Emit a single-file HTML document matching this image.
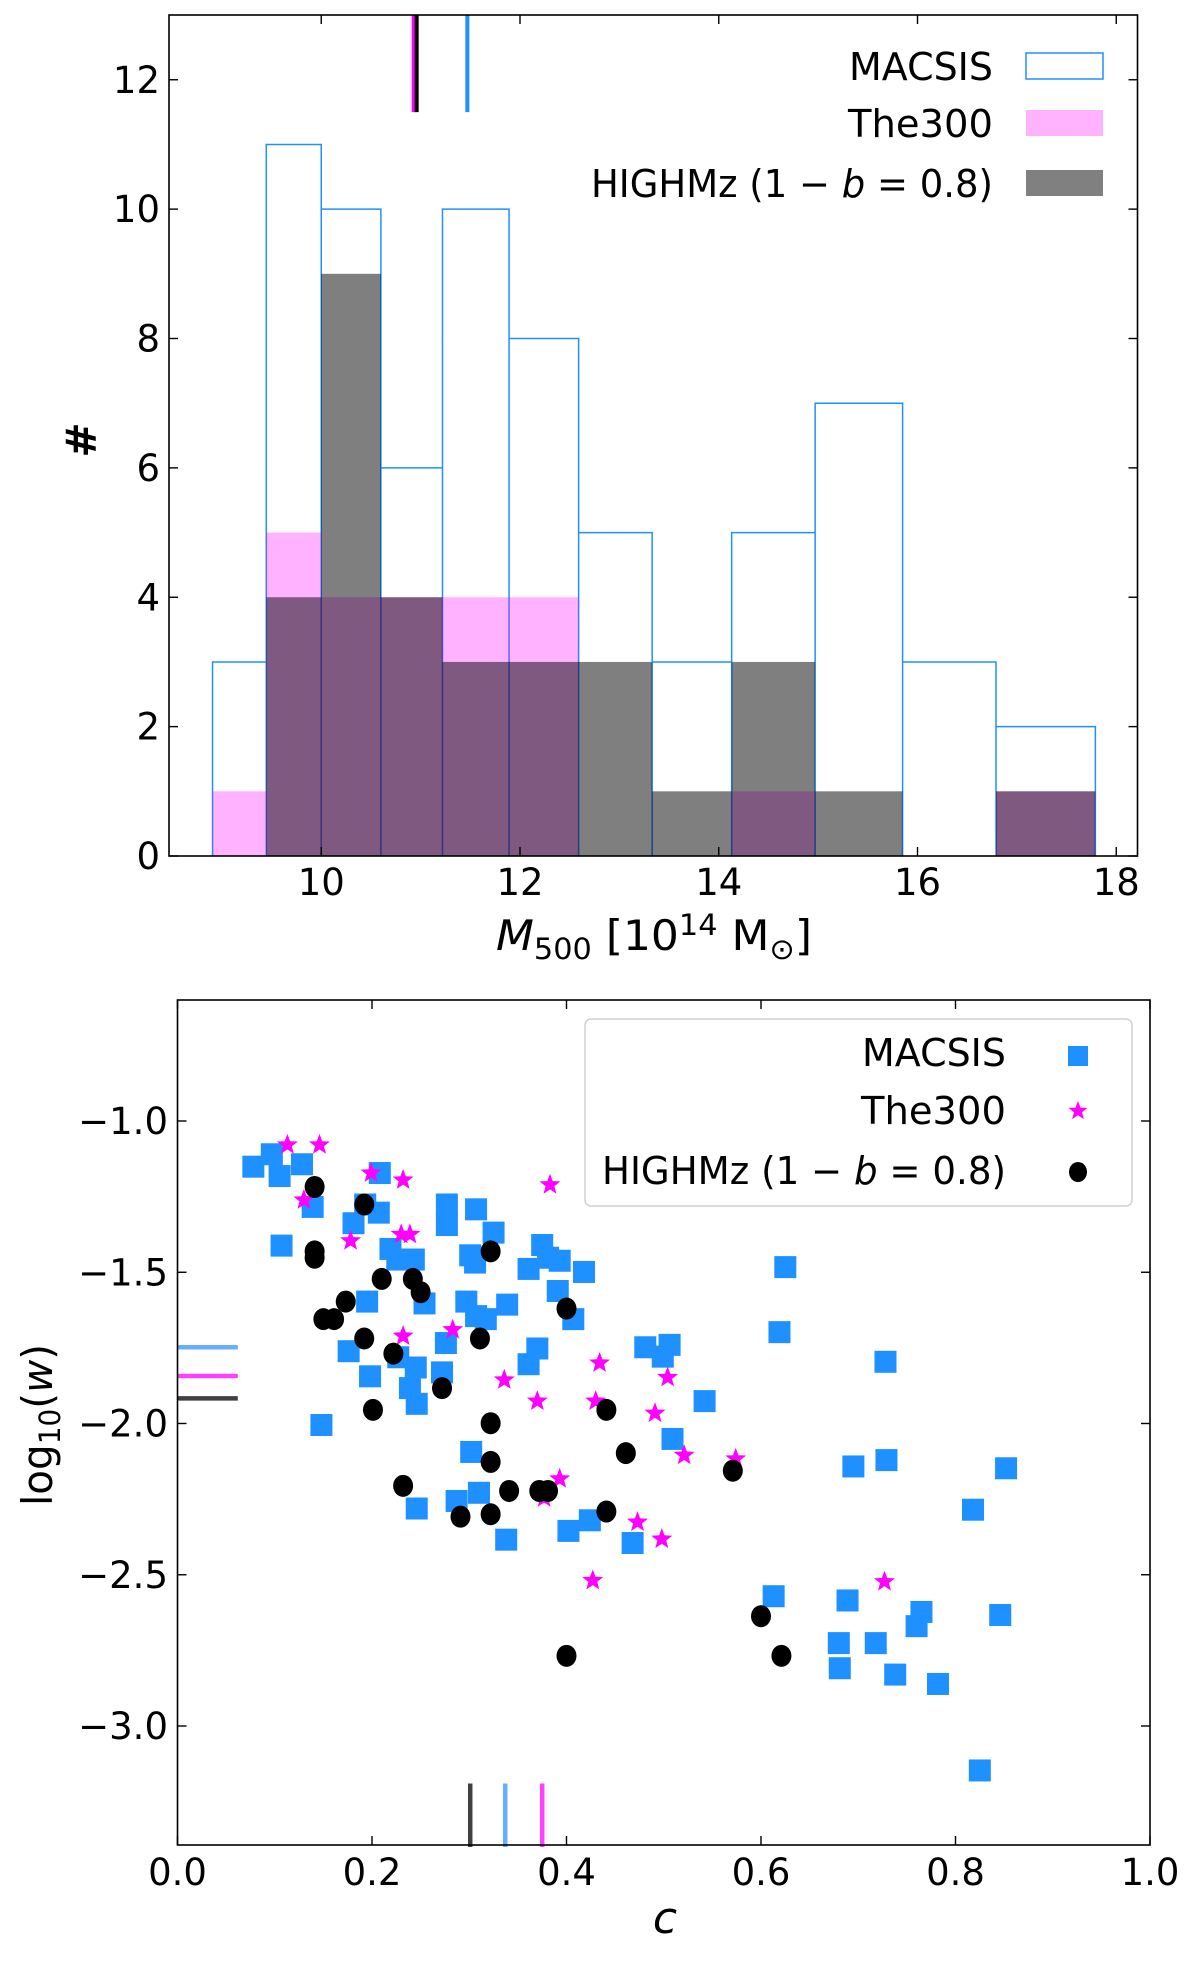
<!DOCTYPE html>
<html><head><meta charset="utf-8"><style>
html,body{margin:0;padding:0;background:#fff;}
svg{display:block;font-family:"DejaVu Sans","Liberation Sans",sans-serif;}
</style></head>
<body>
<svg id="fig" width="1200" height="1963" viewBox="0 0 1200 1963" xmlns="http://www.w3.org/2000/svg">
<g id="topPanel"></g>
<g id="botPanel"></g>
</svg>
<script>
// ---- Histogram data ----
const binEdges = [8.906, 9.447, 10.0, 10.60, 11.22, 11.89, 12.59, 13.33, 14.13, 14.97, 15.85, 16.79, 17.79];
const macsisCounts = [3, 11, 10, 6, 10, 8, 5, 3, 5, 7, 3, 2];
const the300Counts = [1, 5, 4, 4, 4, 4, 0, 0, 1, 0, 0, 1];
const highmzCounts = [0, 4, 9, 4, 3, 3, 3, 1, 3, 1, 0, 1];
const histXTicks = [10, 12, 14, 16, 18];
const histYTicks = [0, 2, 4, 6, 8, 10, 12];
const massMedians = [10.93, 10.96, 11.47]; // the300, highmz, macsis

// ---- Scatter data ----
const macsisC = [.078,.097,.105,.128,.139,.107,.148,.181,.193,.208,.207,.219,.226,.243,.195,.254,.176,.198,.227,.245,.239,.246,.246,.277,.277,.276,.272,.307,.301,.306,.325,.297,.307,.317,.339,.302,.287,.310,.338,.361,.375,.381,.393,.391,.407,.418,.370,.361,.402,.424,.468,.481,.499,.506,.542,.509,.625,.619,.613,.689,.680,.681,.695,.718,.728,.729,.738,.760,.765,.782,.818,.825,.846,.852];
const macsisW = [-1.151,-1.110,-1.182,-1.143,-1.284,-1.412,-2.005,-1.338,-1.276,-1.172,-1.303,-1.423,-1.458,-1.458,-1.597,-1.603,-1.761,-1.844,-1.781,-1.815,-1.883,-1.935,-2.281,-1.276,-1.344,-1.734,-1.831,-1.292,-1.444,-1.468,-1.369,-1.597,-1.645,-1.655,-1.607,-2.094,-2.256,-2.229,-2.384,-1.489,-1.410,-1.452,-1.462,-1.562,-1.655,-1.499,-1.752,-1.804,-2.355,-2.320,-2.395,-1.748,-1.779,-1.740,-1.926,-2.051,-1.483,-1.698,-2.571,-2.585,-2.726,-2.809,-2.142,-2.726,-1.796,-2.121,-2.830,-2.670,-2.623,-2.861,-2.285,-3.147,-2.633,-2.148];
const the300C = [.113,.146,.130,.199,.232,.178,.230,.239,.232,.283,.383,.336,.370,.434,.430,.504,.491,.521,.574,.393,.377,.473,.498,.427,.727];
const the300W = [-1.079,-1.079,-1.261,-1.172,-1.195,-1.396,-1.375,-1.375,-1.711,-1.690,-1.211,-1.856,-1.926,-1.800,-1.926,-1.848,-1.966,-2.105,-2.117,-2.183,-2.246,-2.326,-2.382,-2.519,-2.523];
const highmzC = [.141,.141,.141,.192,.210,.242,.250,.322,.173,.150,.161,.192,.222,.311,.400,.272,.201,.322,.441,.461,.322,.232,.291,.322,.341,.372,.381,.441,.571,.400,.600,.621];
const highmzW = [-1.218,-1.431,-1.452,-1.276,-1.522,-1.522,-1.566,-1.431,-1.597,-1.655,-1.655,-1.719,-1.769,-1.719,-1.620,-1.883,-1.955,-1.999,-1.955,-2.098,-2.127,-2.206,-2.308,-2.300,-2.223,-2.223,-2.223,-2.291,-2.156,-2.768,-2.637,-2.768];
const medianW = [-1.748, -1.843, -1.917]; // macsis, the300, highmz
const medianC = [0.301, 0.337, 0.375]; // highmz, macsis, the300
const scatXTicks = [0.0, 0.2, 0.4, 0.6, 0.8, 1.0];
const scatYTicks = [-1.0, -1.5, -2.0, -2.5, -3.0];

const NS = "http://www.w3.org/2000/svg";
function mk(tag, attrs, parent) {
  const e = document.createElementNS(NS, tag);
  for (const k in attrs) e.setAttribute(k, attrs[k]);
  parent.appendChild(e);
  return e;
}

// ===== Top panel =====
const topG = document.getElementById('topPanel');
const TL = 169, TR = 1137.5, TT = 15, TB = 856;
const hx = v => 321.25 + (v - 10) * 99.375;
const hy = v => 856 - v * 64.6875;

let d = `M${hx(binEdges[0])},${hy(0)}`;
macsisCounts.forEach((c, i) => { d += ` L${hx(binEdges[i])},${hy(c)} L${hx(binEdges[i+1])},${hy(c)}`; });
d += ` L${hx(binEdges[binEdges.length-1])},${hy(0)}`;
for (let i = 1; i < binEdges.length - 1; i++) {
  d += ` M${hx(binEdges[i])},${hy(0)} L${hx(binEdges[i])},${hy(Math.max(macsisCounts[i-1], macsisCounts[i]))}`;
}
const mp = mk('path', {d: d, fill: 'none', stroke: '#1e90ff', 'stroke-width': 1.5}, topG);



the300Counts.forEach((c, i) => {
  if (!c) return;
  const r = mk('rect', {x: hx(binEdges[i]), y: hy(c), width: hx(binEdges[i+1]) - hx(binEdges[i]), height: hy(0) - hy(c), fill: '#ff00ff', 'fill-opacity': 0.3}, topG);
  
  
});
highmzCounts.forEach((c, i) => {
  if (!c) return;
  const r = mk('rect', {x: hx(binEdges[i]), y: hy(c), width: hx(binEdges[i+1]) - hx(binEdges[i]), height: hy(0) - hy(c), fill: '#000', 'fill-opacity': 0.5}, topG);
  
  
});
const medCols = ['#ff00ff', '#000000', '#1e90ff'];
massMedians.forEach((m, i) => {
  const l = mk('line', {x1: hx(m), x2: hx(m), y1: hy(13), y2: hy(11.5), stroke: medCols[i], 'stroke-width': 4}, topG);
  
  
});

const tf = mk('rect', {x: TL, y: TT, width: TR - TL, height: TB - TT, fill: 'none', stroke: '#000', 'stroke-width': 1.6}, topG);


histXTicks.forEach(v => {
  mk('line', {x1: hx(v), x2: hx(v), y1: TB, y2: TB - 9, stroke: '#000', 'stroke-width': 1.4}, topG);
  mk('line', {x1: hx(v), x2: hx(v), y1: TT, y2: TT + 9, stroke: '#000', 'stroke-width': 1.4}, topG);
  const t = mk('text', {x: hx(v), y: 895, 'font-size': 37, 'text-anchor': 'middle'}, topG);
  t.textContent = v;
  
  
});
histYTicks.forEach(v => {
  mk('line', {x1: TL, x2: TL + 9, y1: hy(v), y2: hy(v), stroke: '#000', 'stroke-width': 1.4}, topG);
  mk('line', {x1: TR, x2: TR - 9, y1: hy(v), y2: hy(v), stroke: '#000', 'stroke-width': 1.4}, topG);
  const t = mk('text', {x: 160, y: hy(v) + 13, 'font-size': 37, 'text-anchor': 'end'}, topG);
  t.textContent = v;
  
  
});
const xl = mk('text', {x: 496, y: 950, 'font-size': 42, textLength: 316, lengthAdjust: 'spacingAndGlyphs'}, topG);
xl.innerHTML = '<tspan font-style="italic">M</tspan><tspan font-size="29" dy="9">500</tspan><tspan dy="-9"> [10</tspan><tspan font-size="29" dy="-15">14</tspan><tspan dy="15"> M</tspan><tspan font-size="29" dy="9">⊙</tspan><tspan dy="-9">]</tspan>';


const yl = mk('text', {x: 0, y: 0, 'font-size': 42, 'font-weight': 'bold', 'text-anchor': 'middle', transform: 'translate(96,440) rotate(-90)'}, topG);
yl.textContent = '#';



const lg = mk('g', {}, topG);


[['MACSIS', 66, 144], ['The300', 123, 145], ['HIGHMz (1 − <tspan font-style="italic">b</tspan> = 0.8)', 183, 402]].forEach(e => {
  const t = mk('text', {x: 993 - e[2], y: e[1] + 14, 'font-size': 38, textLength: e[2], lengthAdjust: 'spacingAndGlyphs'}, lg);
  t.innerHTML = e[0];
  
  
});
const r1 = mk('rect', {x: 1026, y: 53, width: 77, height: 26, fill: 'none', stroke: '#1e90ff', 'stroke-width': 1.5}, lg);


const r2 = mk('rect', {x: 1026, y: 110, width: 77, height: 26, fill: '#ffb3ff'}, lg);


const r3 = mk('rect', {x: 1026, y: 170, width: 77, height: 26, fill: '#808080'}, lg);



// ===== Bottom panel =====
const botG = document.getElementById('botPanel');
const BL = 177.5, BR = 1150, BT = 1000, BB = 1845;
const sx = c => BL + c * 972.5;
const sy = w => 1121 + (-1 - w) * 302.5;

const hcols = ['#64b0ff', '#ff40ff', '#404040'];
medianW.forEach((w, i) => {
  const l = mk('line', {x1: sx(0), x2: sx(0.062), y1: sy(w), y2: sy(w), stroke: hcols[i], 'stroke-width': 4.5}, botG);
  
  
});
const vcols = ['#404040', '#64b0ff', '#ff40ff'];
medianC.forEach((c, i) => {
  const l = mk('line', {x1: sx(c), x2: sx(c), y1: sy(-3.19), y2: sy(-3.4), stroke: vcols[i], 'stroke-width': 4.5}, botG);
  
  
});

macsisC.forEach((c, i) => {
  const s = 22;
  const r = mk('rect', {x: sx(c) - s/2, y: sy(macsisW[i]) - s/2, width: s, height: s, fill: '#1e90ff'}, botG);
  
  
});
function starPath(px, py, R) {
  let p = '';
  for (let k = 0; k < 10; k++) {
    const a = -Math.PI / 2 + k * Math.PI / 5;
    const rr = k % 2 ? R * 0.42 : R;
    p += (k ? 'L' : 'M') + (px + rr * Math.cos(a)).toFixed(1) + ',' + (py + rr * Math.sin(a)).toFixed(1);
  }
  return p + 'Z';
}
the300C.forEach((c, i) => {
  const p = mk('path', {d: starPath(sx(c), sy(the300W[i]), 11), fill: '#ff00ff'}, botG);
  
  
});
highmzC.forEach((c, i) => {
  const p = mk('ellipse', {cx: sx(c), cy: sy(highmzW[i]), rx: 10, ry: 11, fill: '#000'}, botG);
  
  
});

const bf = mk('rect', {x: BL, y: BT, width: BR - BL, height: BB - BT, fill: 'none', stroke: '#000', 'stroke-width': 1.6}, botG);


scatXTicks.forEach(v => {
  mk('line', {x1: sx(v), x2: sx(v), y1: BB, y2: BB - 9, stroke: '#000', 'stroke-width': 1.4}, botG);
  mk('line', {x1: sx(v), x2: sx(v), y1: BT, y2: BT + 9, stroke: '#000', 'stroke-width': 1.4}, botG);
  const t = mk('text', {x: sx(v), y: 1885, 'font-size': 37, 'text-anchor': 'middle'}, botG);
  t.textContent = v.toFixed(1);
  
  
});
scatYTicks.forEach(v => {
  mk('line', {x1: BL, x2: BL + 9, y1: sy(v), y2: sy(v), stroke: '#000', 'stroke-width': 1.4}, botG);
  mk('line', {x1: BR, x2: BR - 9, y1: sy(v), y2: sy(v), stroke: '#000', 'stroke-width': 1.4}, botG);
  const t = mk('text', {x: 168, y: sy(v) + 13, 'font-size': 37, 'text-anchor': 'end'}, botG);
  t.textContent = '−' + Math.abs(v).toFixed(1);
  
  
});
const cLabel = mk('text', {x: 665, y: 1933, 'font-size': 44, 'font-style': 'italic', 'text-anchor': 'middle'}, botG);
cLabel.textContent = 'c';


const wLabel = mk('text', {x: -81, y: 0, 'font-size': 42, textLength: 162, lengthAdjust: 'spacingAndGlyphs', transform: 'translate(52,1425) rotate(-90)'}, botG);
wLabel.innerHTML = 'log<tspan font-size="29" dy="8">10</tspan><tspan dy="-8">(</tspan><tspan font-style="italic">w</tspan>)';



const sl = mk('g', {}, botG);


const lb = mk('rect', {x: 585, y: 1019, width: 547, height: 187, rx: 6, fill: '#fff', 'fill-opacity': 0.85, stroke: '#d0d0d0', 'stroke-width': 1.5}, sl);


[['MACSIS', 1052, 144], ['The300', 1110, 145], ['HIGHMz (1 − <tspan font-style="italic">b</tspan> = 0.8)', 1170, 404]].forEach(e => {
  const t = mk('text', {x: 1006 - e[2], y: e[1] + 14, 'font-size': 38, textLength: e[2], lengthAdjust: 'spacingAndGlyphs'}, sl);
  t.innerHTML = e[0];
  
  
});
const m1 = mk('rect', {x: 1068, y: 1046, width: 20, height: 20, fill: '#1e90ff'}, sl);


const m2 = mk('path', {d: starPath(1078, 1111, 10), fill: '#ff00ff'}, sl);


const m3 = mk('ellipse', {cx: 1078, cy: 1172, rx: 9, ry: 10, fill: '#000'}, sl);


</script>
</body></html>
